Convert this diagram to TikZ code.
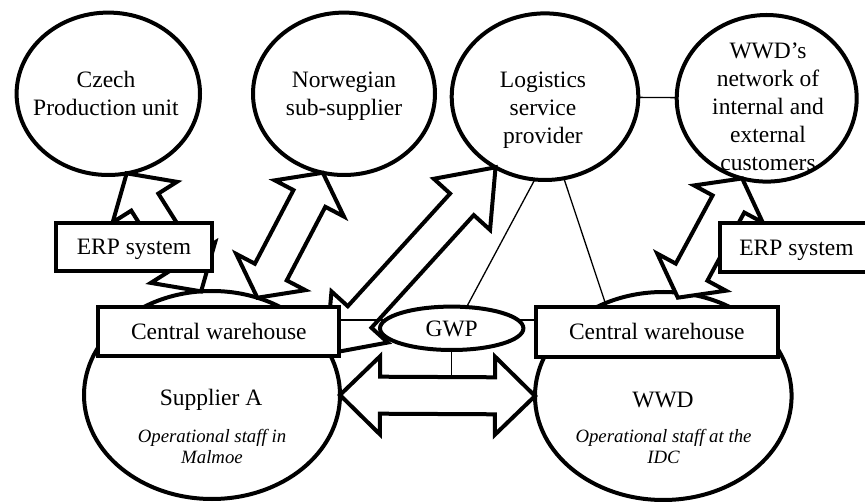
\documentclass[tikz,border=0pt]{standalone}
\usepackage{fontspec}
\setmainfont{Liberation Serif}
\usetikzlibrary{calc,shapes.geometric}

% Double-headed block arrow from #2 to #3.
% #1 name prefix, #4 head length, #5 head half-width, #6 shaft half-width
\newcommand\dblarrow[6]{%
  \path ($(#2)!#4!(#3)$) coordinate (#1-ha)
        ($(#3)!#4!(#2)$) coordinate (#1-hb);
  \path ($(#1-ha)!#5!90:(#3)$)  coordinate (#1-wa1)
        ($(#1-ha)!#6!90:(#3)$)  coordinate (#1-sa1)
        ($(#1-ha)!#6!-90:(#3)$) coordinate (#1-sa2)
        ($(#1-ha)!#5!-90:(#3)$) coordinate (#1-wa2)
        ($(#1-hb)!#5!-90:(#2)$) coordinate (#1-wb1)
        ($(#1-hb)!#6!-90:(#2)$) coordinate (#1-sb1)
        ($(#1-hb)!#6!90:(#2)$)  coordinate (#1-sb2)
        ($(#1-hb)!#5!90:(#2)$)  coordinate (#1-wb2);
  \draw[blockarrow] (#2) -- (#1-wa1) -- (#1-sa1) -- (#1-sb1) -- (#1-wb1)
    -- (#3) -- (#1-wb2) -- (#1-sb2) -- (#1-sa2) -- (#1-wa2) -- cycle;
}

\begin{document}
\begin{tikzpicture}[x=1pt,y=-1pt,
  bubble/.style={draw, ellipse, line width=4pt, fill=white, inner sep=0pt, outer sep=0pt},
  blockarrow/.style={draw, fill=white, line width=4pt, line join=miter},
  box/.style={draw, rectangle, line width=4pt, fill=white, inner sep=0pt, outer sep=0pt,
    font=\fontsize{23.5}{28}\selectfont, text height=16pt, text depth=0pt},
  thinline/.style={line width=1.3pt},
  caption/.style={inner sep=0pt, align=center, font=\fontsize{23.5}{28}\selectfont},
  staff/.style={inner sep=0pt, align=center, font=\fontsize{18.8}{21}\selectfont\itshape}]

\path[use as bounding box] (0,0) rectangle (865,502);
\clip (0,0) rectangle (865,502);

% actors
\node[bubble, minimum width=183.4pt, minimum height=162.4pt] (czech)  at (108.3,93.8) {};
\node[bubble, minimum width=182pt,   minimum height=162.4pt] (norw)   at (344,93.8) {};
\node[bubble, minimum width=186.6pt, minimum height=166.6pt] (lsp)    at (545,96.7) {};
\node[bubble, minimum width=180pt,   minimum height=166.6pt] (wwdnet) at (766.7,98.3) {};
\node[bubble, minimum width=256pt,   minimum height=208pt]   (supa)   at (212,395) {};
\node[bubble, minimum width=256.6pt, minimum height=208pt]   (wwd)    at (663.3,396) {};

% arrow ends hidden behind or inside other shapes
\coordinate (lspfoot) at (326,354);
\coordinate (wwdfoot) at ([yshift=-5pt]wwd.82);

% information flows
\dblarrow{czl}{czech.283}{supa.96}{34pt}{38pt}{16pt}
\dblarrow{nol}{norw.255}{supa.65}{29pt}{39pt}{18pt}
\dblarrow{lsl}{lsp.235}{lspfoot}{50pt}{38pt}{16pt}
\dblarrow{wwl}{wwdnet.253}{wwdfoot}{29pt}{39pt}{18pt}
\dblarrow{flow}{supa.east}{wwd.west}{40pt}{39pt}{18.5pt}

% warehouses and ERP systems
\node[box, minimum width=241pt,   minimum height=49pt] (cwl)  at (218.8,331.3) {Central warehouse};
\node[box, minimum width=241.7pt, minimum height=50pt] (cwr)  at (656.8,331.7) {Central warehouse};
\node[box, minimum width=156pt,   minimum height=48pt] (erpl) at (134,247) {ERP system};
\node[box, minimum width=153pt,   minimum height=49pt] (erpr) at (796.5,247.8) {ERP system};

\node[bubble, minimum width=143.4pt, minimum height=43.4pt,
      font=\fontsize{23.5}{28}\selectfont, text height=15.6pt, text depth=0pt] (gwp) at (451.7,328.3) {GWP};

% relations
\draw[thinline] (lsp) -- (wwdnet);
\draw[thinline] (lsp.263) -- (gwp.55);
\draw[thinline] (lsp.283) -- (wwd.122);
\draw[thinline] (gwp.173) -- (gwp.173 -| cwl.east);
\draw[thinline] (gwp.7) -- (gwp.7 -| cwr.west);
\draw[thinline] (gwp.south) -- (gwp.south |- flow-sa1);

% labels
\node[caption] (czech-t)  at (106,93)   {Czech\\Production unit};
\node[caption] (norw-t)   at (344,96)   {Norwegian\\sub-supplier};
\node[caption] (lsp-t)    at (543,110)  {Logistics\\service\\provider};
\node[caption] (wwdnet-t) at (768,107)  {WWD’s\\network of\\internal and\\external\\customers};
\node[caption] (supa-t)   at (211,400)  {Supplier A};
\node[staff]   (supa-s)   at (212,446)  {Operational staff in\\Malmoe};
\node[caption] (wwd-t)    at (663,399.5) {WWD};
\node[staff]   (wwd-s)    at (663.5,446) {Operational staff at the\\IDC};

\end{tikzpicture}
\end{document}
